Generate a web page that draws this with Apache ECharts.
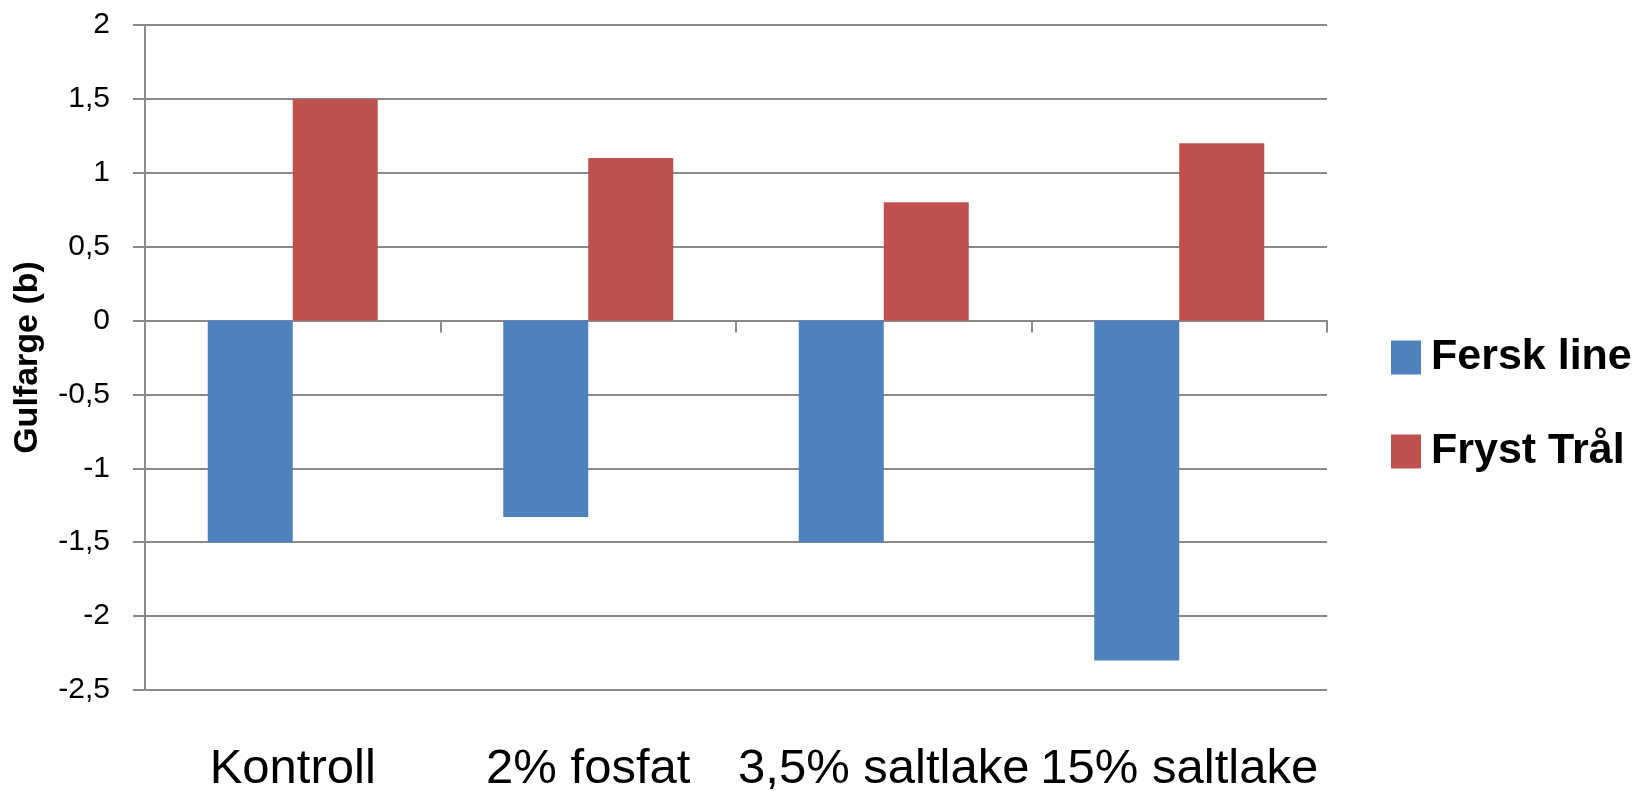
<!DOCTYPE html>
<html>
<head>
<meta charset="utf-8">
<script src="https://cdn.jsdelivr.net/npm/echarts@6/dist/echarts.min.js"></script>
<style>
html,body{margin:0;padding:0;background:#fff;}
#chart{width:1642px;height:791px;}
</style>
</head>
<body>
<div id="chart"></div>
<script>
var categories = ['Kontroll', '2% fosfat', '3,5% saltlake', '15% saltlake'];
var ferskLine = [-1.5, -1.33, -1.5, -2.3];
var frystTral = [1.5, 1.1, 0.8, 1.2];
var seriesNames = ['Fersk line', 'Fryst Tr\u00e5l'];
var yTicks = { min: -2.5, max: 2, interval: 0.5 };
var yAxisName = 'Gulfarge (b)';

var chart = echarts.init(document.getElementById('chart'));
var gridColor = '#8a8a8a';
function legendAt(name, top) {
  return {
    orient: 'vertical',
    left: 1386,
    top: top,
    itemWidth: 30,
    itemHeight: 34,
    icon: 'rect',
    data: [name],
    textStyle: { fontSize: 43, fontWeight: 'bold', color: '#000', padding: [0, 0, 0, 5] }
  };
}
chart.setOption({
  animation: false,
  backgroundColor: '#ffffff',
  textStyle: { fontFamily: 'Liberation Sans, Arial, sans-serif' },
  grid: { left: 145, right: 315, top: 25, bottom: 101, containLabel: false, outerBoundsMode: 'none' },
  legend: [legendAt(seriesNames[0], 331), legendAt(seriesNames[1], 425)],
  xAxis: [{
    type: 'category',
    data: categories,
    position: 'bottom',
    axisLine: { show: false, onZero: false },
    axisTick: { show: false },
    axisLabel: { fontSize: 49, color: '#000', margin: 55, interval: 0 }
  }, {
    type: 'category',
    data: categories,
    position: 'bottom',
    axisLine: { show: true, onZero: true, lineStyle: { color: gridColor, width: 2 } },
    axisTick: { show: true, length: 12, inside: false, lineStyle: { color: gridColor, width: 2 } },
    axisLabel: { show: false }
  }],
  yAxis: {
    type: 'value',
    min: yTicks.min,
    max: yTicks.max,
    interval: yTicks.interval,
    name: yAxisName,
    nameLocation: 'middle',
    nameGap: 100,
    nameTextStyle: { fontSize: 34, fontWeight: 'bold', color: '#000' },
    axisLine: { show: true, lineStyle: { color: gridColor, width: 2 } },
    axisTick: { show: true, length: 12, lineStyle: { color: gridColor, width: 2 } },
    splitLine: { show: true, lineStyle: { color: gridColor, width: 2 } },
    axisLabel: {
      fontSize: 30, color: '#000', margin: 35,
      formatter: function (v) { return String(v).replace('.', ','); }
    }
  },
  series: [{
    name: seriesNames[0],
    type: 'bar',
    data: ferskLine,
    barWidth: 85,
    barGap: '0%',
    itemStyle: { color: '#4F81BD' }
  }, {
    name: seriesNames[1],
    type: 'bar',
    data: frystTral,
    barWidth: 85,
    barGap: '0%',
    itemStyle: { color: '#C0504D' }
  }]
});
</script>
</body>
</html>
